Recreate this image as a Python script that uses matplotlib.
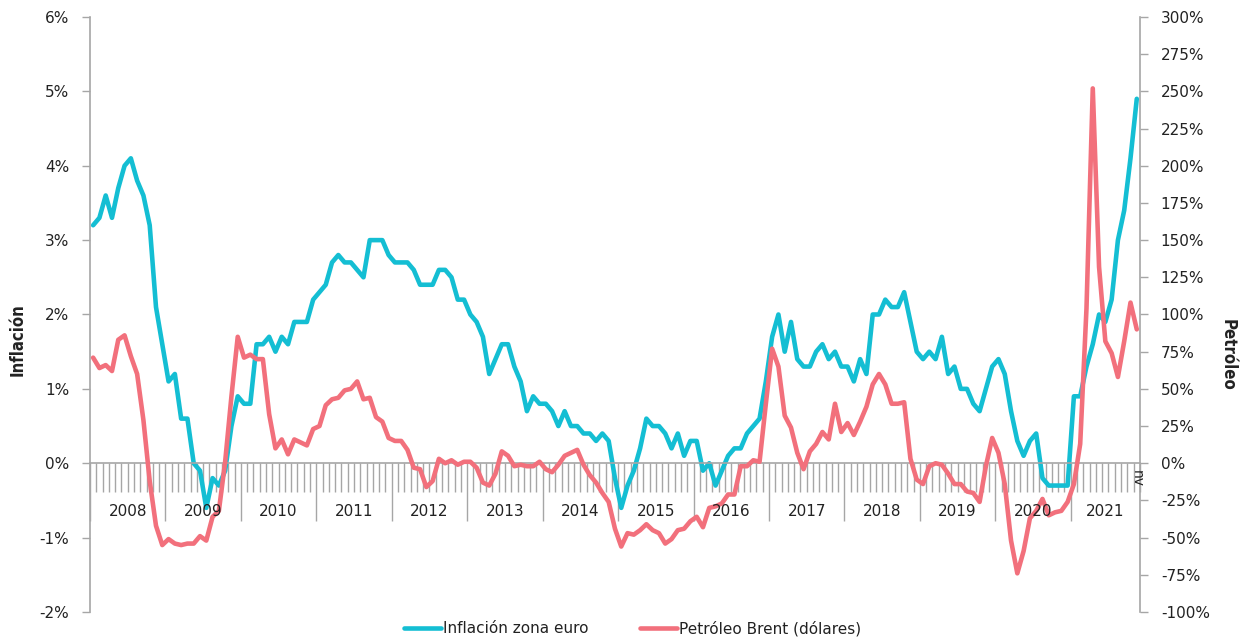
import numpy as np
import matplotlib
matplotlib.use("Agg")
import matplotlib.pyplot as plt
from matplotlib.ticker import PercentFormatter, FixedLocator, MultipleLocator
from matplotlib.lines import Line2D

plt.rcParams['font.family'] = ['DejaVu Sans']
plt.rcParams['axes.unicode_minus'] = False

# Monthly data, Jan 2008 .. Nov 2021
years = list(range(2008, 2022))
lastMonthLabel = "nv"

# Euro area inflation (%, yoy)
inflation = [
    3.2, 3.3, 3.6, 3.3, 3.7, 4.0, 4.1, 3.8, 3.6, 3.2, 2.1, 1.6,      # 2008
    1.1, 1.2, 0.6, 0.6, 0.0, -0.1, -0.6, -0.2, -0.3, -0.1, 0.5, 0.9,  # 2009
    0.8, 0.8, 1.6, 1.6, 1.7, 1.5, 1.7, 1.6, 1.9, 1.9, 1.9, 2.2,      # 2010
    2.3, 2.4, 2.7, 2.8, 2.7, 2.7, 2.6, 2.5, 3.0, 3.0, 3.0, 2.8,      # 2011
    2.7, 2.7, 2.7, 2.6, 2.4, 2.4, 2.4, 2.6, 2.6, 2.5, 2.2, 2.2,      # 2012
    2.0, 1.9, 1.7, 1.2, 1.4, 1.6, 1.6, 1.3, 1.1, 0.7, 0.9, 0.8,      # 2013
    0.8, 0.7, 0.5, 0.7, 0.5, 0.5, 0.4, 0.4, 0.3, 0.4, 0.3, -0.2,     # 2014
    -0.6, -0.3, -0.1, 0.2, 0.6, 0.5, 0.5, 0.4, 0.2, 0.4, 0.1, 0.3,   # 2015
    0.3, -0.1, 0.0, -0.3, -0.1, 0.1, 0.2, 0.2, 0.4, 0.5, 0.6, 1.1,   # 2016
    1.7, 2.0, 1.5, 1.9, 1.4, 1.3, 1.3, 1.5, 1.6, 1.4, 1.5, 1.3,      # 2017
    1.3, 1.1, 1.4, 1.2, 2.0, 2.0, 2.2, 2.1, 2.1, 2.3, 1.9, 1.5,      # 2018
    1.4, 1.5, 1.4, 1.7, 1.2, 1.3, 1.0, 1.0, 0.8, 0.7, 1.0, 1.3,      # 2019
    1.4, 1.2, 0.7, 0.3, 0.1, 0.3, 0.4, -0.2, -0.3, -0.3, -0.3, -0.3, # 2020
    0.9, 0.9, 1.3, 1.6, 2.0, 1.9, 2.2, 3.0, 3.4, 4.1, 4.9,           # 2021
]

# Brent oil in dollars (%, yoy)
brent = [
    71, 64, 66, 62, 83, 86, 72, 60, 29, -12, -42, -55,        # 2008
    -51, -54, -55, -54, -54, -49, -52, -36, -32, 1, 45, 85,   # 2009
    71, 73, 70, 70, 33, 10, 16, 6, 16, 14, 12, 23,            # 2010
    25, 39, 43, 44, 49, 50, 55, 43, 44, 31, 28, 17,           # 2011
    15, 15, 9, -3, -4, -16, -12, 3, 0, 2, -1, 1,              # 2012
    1, -3, -13, -15, -7, 8, 5, -2, -1, -2, -2, 1,             # 2013
    -4, -6, -1, 5, 7, 9, -1, -8, -13, -20, -26, -44,          # 2014
    -56, -47, -48, -45, -41, -45, -47, -54, -51, -45, -44, -39,  # 2015
    -36, -43, -30, -29, -27, -21, -21, -2, -2, 2, 1, 40,      # 2016
    77, 65, 32, 24, 7, -4, 8, 13, 21, 16, 40, 21,             # 2017
    27, 19, 28, 38, 53, 60, 53, 40, 40, 41, 3, -11,           # 2018
    -14, -2, 0, -1, -7, -14, -14, -19, -20, -26, -2, 17,      # 2019
    7, -14, -52, -74, -59, -37, -32, -24, -35, -33, -32, -26, # 2020
    -14, 13, 104, 252, 132, 82, 74, 58, 82, 108, 90,          # 2021
]

blue = '#14BED3'
red = '#F2707C'
grey = '#A6A6A6'
textColor = '#222222'

n = len(inflation)
x = np.arange(n)

fig = plt.figure(figsize=(12.48, 6.44), dpi=100)
ax = fig.add_axes([0.0721, 0.0497, 0.8413, 0.9239])
ax2 = ax.twinx()

ax.plot(x, inflation, color=blue, lw=3.3, solid_joinstyle='round', solid_capstyle='round')
ax2.plot(x, brent, color=red, lw=3.3, solid_joinstyle='round', solid_capstyle='round')

ax.set_xlim(-0.5, n - 0.5)
ax.set_ylim(-2, 6)
ax2.set_ylim(-100, 300)

ax.yaxis.set_major_locator(MultipleLocator(1))
ax.yaxis.set_major_formatter(PercentFormatter(decimals=0))
ax2.yaxis.set_major_locator(MultipleLocator(25))
ax2.yaxis.set_major_formatter(PercentFormatter(decimals=0))

# category axis crossing at 0, monthly tick marks, long year separators
ax.spines['bottom'].set_position(('data', 0))
yearBounds = [-0.5] + [12 * k - 0.5 for k in range(1, len(years))]
ax.xaxis.set_major_locator(FixedLocator(yearBounds))
ax.xaxis.set_minor_locator(FixedLocator(np.arange(n + 1) - 0.5))
ax.tick_params(axis='x', which='major', direction='out', length=42, width=1, color=grey, labelbottom=False)
ax.tick_params(axis='x', which='minor', direction='out', length=21, width=1, color=grey)

for a in (ax, ax2):
    a.spines['top'].set_visible(False)
    for s in a.spines.values():
        s.set_color(grey)
        s.set_linewidth(1.2)
ax2.spines['bottom'].set_visible(False)
ax.spines['right'].set_visible(False)
ax2.spines['left'].set_visible(False)

ax.tick_params(axis='y', direction='out', length=6, width=1, color=grey, labelsize=11,
               labelcolor=textColor, pad=9)
ax2.tick_params(axis='y', direction='out', length=6, width=1, color=grey, labelsize=11,
                labelcolor=textColor, pad=9)

# year labels centred under each year, drawn above the lines
for k, yr in enumerate(years):
    months = x[12 * k:12 * (k + 1)]
    ax2.text(months.mean(), -0.65, str(yr), transform=ax.transData, ha='center', va='center',
             fontsize=11, color=textColor, zorder=5)
ax2.text(x[-1], -0.2, lastMonthLabel, transform=ax.transData, rotation=-90, ha='center',
         va='center', fontsize=10, color=textColor, zorder=5)

fig.text(0.0145, 0.472, 'Inflación', rotation=90, ha='center', va='center', fontsize=12,
         fontweight='bold', color=textColor, stretch='condensed')
fig.text(0.984, 0.449, 'Petróleo', rotation=-90, ha='center', va='center', fontsize=12,
         fontweight='bold', color=textColor, stretch='condensed')

handles = [Line2D([], [], color=blue, lw=3.3, solid_capstyle='round'),
           Line2D([], [], color=red, lw=3.3, solid_capstyle='round')]
fig.legend(handles, ['Inflación zona euro', 'Petróleo Brent (dólares)'], loc='center',
           bbox_to_anchor=(0.507, 0.024), ncol=2, frameon=False, fontsize=11,
           handlelength=2.4, handletextpad=0.15, columnspacing=3.4, labelcolor=textColor)

fig.savefig('out.png', dpi=100)
